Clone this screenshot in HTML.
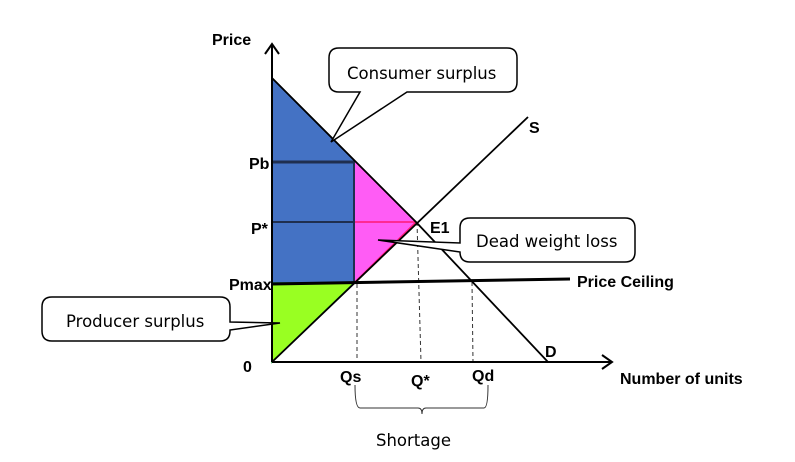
<!DOCTYPE html>
<html><head><meta charset="utf-8"><style>
html,body{margin:0;padding:0;background:#fff;}
svg{display:block;}
.b{font-family:"Liberation Sans",Arial,sans-serif;font-weight:bold;font-size:16px;fill:#000;}
.n{font-family:"DejaVu Sans","Liberation Sans",sans-serif;font-size:16.5px;fill:#000;}
</style></head><body>
<svg width="795" height="462" viewBox="0 0 795 462" xmlns="http://www.w3.org/2000/svg">
<polygon points="272,78 354,160 354,283 272,283" fill="#4472c4" stroke="#1f2f50" stroke-width="1.5"/>
<polygon points="354,160 416,222 354,283" fill="#ff5cf5" stroke="#ff1a75" stroke-width="1.5"/>
<polygon points="272,283 354,283 272,362" fill="#99ff22" stroke="#22aa44" stroke-width="1.5"/>
<line x1="272" y1="162" x2="354" y2="162" stroke="#1f2f50" stroke-width="3"/>
<line x1="272" y1="222" x2="354" y2="222" stroke="#1f2f50" stroke-width="2"/>
<line x1="354" y1="222" x2="416" y2="222" stroke="#ff1a75" stroke-width="1.5"/>
<line x1="354" y1="160" x2="354" y2="283" stroke="#1f2f50" stroke-width="2"/>
<g stroke="#333" stroke-width="1" stroke-dasharray="4,3">
<line x1="357" y1="284" x2="357" y2="362"/>
<line x1="417" y1="222" x2="421" y2="362"/>
<line x1="472" y1="282" x2="473" y2="362"/>
</g>
<line x1="272" y1="362" x2="272" y2="44" stroke="#000" stroke-width="2"/>
<polyline points="265,54 272,44 279,54" fill="none" stroke="#000" stroke-width="2"/>
<line x1="272" y1="362" x2="612" y2="362" stroke="#000" stroke-width="2"/>
<polyline points="602,355 612,362 602,369" fill="none" stroke="#000" stroke-width="2"/>
<polyline points="272,78 416,222 548,362" fill="none" stroke="#000" stroke-width="1.8"/>
<line x1="272" y1="362" x2="528" y2="117" stroke="#000" stroke-width="1.8"/>
<line x1="272" y1="284" x2="570" y2="279" stroke="#000" stroke-width="3"/>
<text class="b" x="212" y="45">Price</text>
<text class="b" x="249" y="169">Pb</text>
<text class="b" x="251" y="234">P*</text>
<text class="b" x="229" y="290">Pmax</text>
<text class="b" x="243" y="372">0</text>
<text class="b" x="529" y="133">S</text>
<text class="b" x="430" y="233">E1</text>
<text class="b" x="545" y="357">D</text>
<text class="b" x="577" y="287">Price Ceiling</text>
<text class="b" x="620" y="384">Number of units</text>
<text class="b" x="340" y="382">Qs</text>
<text class="b" x="411" y="386">Q*</text>
<text class="b" x="472" y="381">Qd</text>
<path d="M355,385 Q355,408 360,408 L418,408 Q422,408 422,414 Q422,408 426,408 L484,408 Q488,408 488,385" fill="none" stroke="#333" stroke-width="1"/>
<text class="n" x="376" y="446">Shortage</text>
<path d="M339,48 L507,48 Q517,48 517,58 L517,82 Q517,92 507,92 L407,92 L331,142 L360,92 L339,92 Q329,92 329,82 L329,58 Q329,48 339,48 Z" fill="#fff" stroke="#000" stroke-width="1.5"/>
<text class="n" x="347" y="79">Consumer surplus</text>
<path d="M470,218 L625,218 Q635,218 635,228 L635,252 Q635,262 625,262 L470,262 Q460,262 460,252 L378,240 L460,243 L460,228 Q460,218 470,218 Z" fill="#fff" stroke="#000" stroke-width="1.5"/>
<text class="n" x="476" y="247">Dead weight loss</text>
<path d="M52,297 L220,297 Q230,297 230,307 L230,322 L280,323 L230,330 L230,331 Q230,341 220,341 L52,341 Q42,341 42,331 L42,307 Q42,297 52,297 Z" fill="#fff" stroke="#000" stroke-width="1.5"/>
<text class="n" x="66" y="327">Producer surplus</text>
</svg>
</body></html>
